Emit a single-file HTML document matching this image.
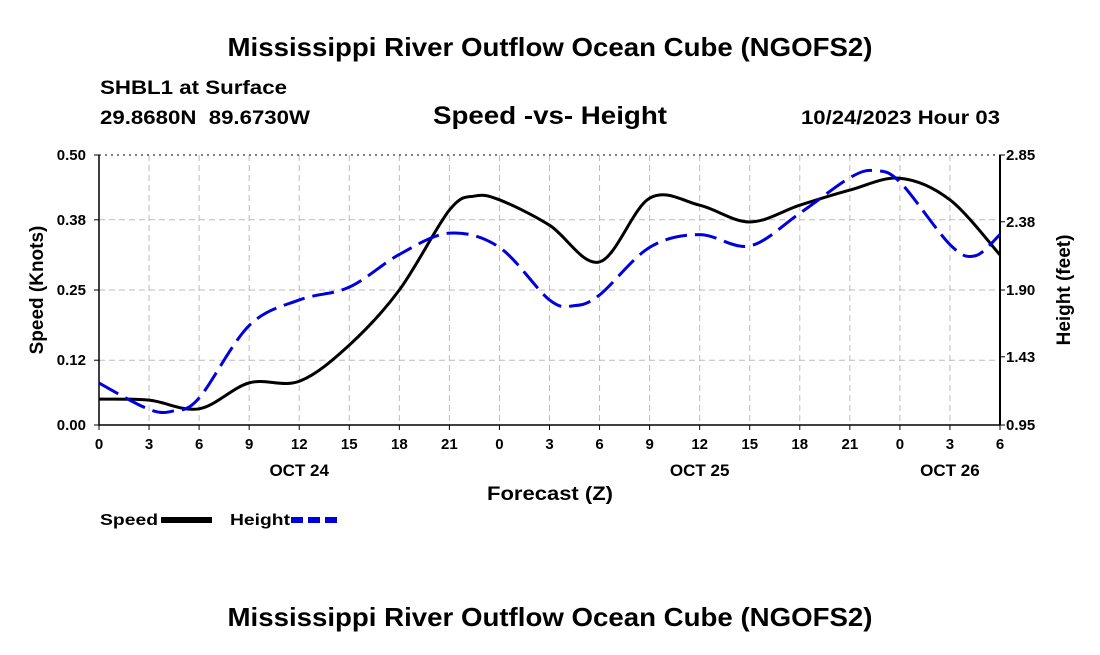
<!DOCTYPE html>
<html><head><meta charset="utf-8"><style>
body{margin:0;background:#fff;width:1100px;height:650px;overflow:hidden;font-family:"Liberation Sans",sans-serif}
svg text{font-family:"Liberation Sans",sans-serif;font-weight:bold;fill:#000;white-space:pre}
</style></head><body>
<svg id="c" width="1100" height="650">
<text x="550" y="56" font-size="26" textLength="645" lengthAdjust="spacingAndGlyphs" text-anchor="middle">Mississippi River Outflow Ocean Cube (NGOFS2)</text>
<text x="100" y="94" font-size="19" textLength="187" lengthAdjust="spacingAndGlyphs">SHBL1 at Surface</text>
<text x="100" y="124" font-size="19" textLength="210" lengthAdjust="spacingAndGlyphs" xml:space="preserve">29.8680N  89.6730W</text>
<text x="550" y="124" font-size="25" textLength="234" lengthAdjust="spacingAndGlyphs" text-anchor="middle">Speed -vs- Height</text>
<text x="801" y="124" font-size="19" textLength="199" lengthAdjust="spacingAndGlyphs">10/24/2023 Hour 03</text>
<g id="grid"></g><g id="axes"></g><g id="series"></g>
<text x="487" y="500" font-size="19" textLength="126" lengthAdjust="spacingAndGlyphs">Forecast (Z)</text>
<text transform="translate(43,290) rotate(-90)" font-size="19" text-anchor="middle">Speed (Knots)</text>
<text transform="translate(1070,290) rotate(-90)" font-size="19" text-anchor="middle">Height (feet)</text>
<g><text x="100" y="525" font-size="16" textLength="58" lengthAdjust="spacingAndGlyphs">Speed</text><line x1="161" y1="520" x2="212" y2="520" stroke="#000" stroke-width="6"/></g>
<g><text x="230" y="525" font-size="16" textLength="60" lengthAdjust="spacingAndGlyphs">Height</text><line x1="291" y1="520" x2="342" y2="520" stroke="#0000dd" stroke-width="6" stroke-dasharray="12,5"/></g>
<text x="550" y="626" font-size="26" textLength="645" lengthAdjust="spacingAndGlyphs" text-anchor="middle">Mississippi River Outflow Ocean Cube (NGOFS2)</text>
</svg>
<script>
const xTickLabels=["0","3","6","9","12","15","18","21","0","3","6","9","12","15","18","21","0","3","6"];
const dayLabels=["OCT 24","OCT 25","OCT 26"];
const dayHours=[12,36,51];
const leftTicks=["0.00","0.12","0.25","0.38","0.50"];
const rightTicks=["0.95","1.43","1.90","2.38","2.85"];
const speedHours=[0,3,6,9,12,15,18,21,22.5,24,27,30,33,36,39,42,45,48,51,54];
const speedValues=[0.048,0.046,0.030,0.078,0.081,0.148,0.25,0.398,0.424,0.417,0.37,0.302,0.42,0.407,0.376,0.407,0.435,0.457,0.417,0.315];
const heightHours=[0,3,4.5,6,9,12,15,18,21,24,27,28.5,30,33,36,39,42,45,46.5,48,51,52.5,54];
const heightValues=[1.245,1.06,1.05,1.14,1.65,1.83,1.92,2.15,2.30,2.20,1.83,1.79,1.865,2.20,2.29,2.21,2.44,2.69,2.74,2.66,2.22,2.14,2.29];
const L=99,R=1000,T=155,B=425,NS="http://www.w3.org/2000/svg";
const xs=h=>L+(R-L)*h/54, yl=v=>B-(B-T)*v/0.5, yr=v=>B-(B-T)*(v-0.95)/1.9;
function el(p,t,a){const e=document.createElementNS(NS,t);for(const k in a)e.setAttribute(k,a[k]);document.getElementById(p).appendChild(e);return e;}
xTickLabels.forEach((l,i)=>{const x=xs(i*3);
 const g=el('grid','line',{x1:x,x2:x,y1:T,y2:B,stroke:'#bbb','stroke-dasharray':'6,4'});
 
 const tk=el('axes','line',{x1:x,x2:x,y1:B,y2:B+5,stroke:'#000'});
 
 const t=el('axes','text',{x:x,y:B+24,'font-size':15,'text-anchor':'middle'});t.textContent=l;
 });
dayLabels.forEach((l,i)=>{const t=el('axes','text',{x:xs(dayHours[i]),y:B+51,'font-size':17,'text-anchor':'middle'});t.textContent=l;
 });
leftTicks.forEach((l,i)=>{const y=yl(+l);
 const g=el('grid','line',{x1:L,x2:R,y1:y,y2:y,stroke:i==4?'#000':'#bbb','stroke-dasharray':i==4?'2,4':'6,4'});
 
 const t=el('axes','text',{x:L-13,y:y+5,'font-size':15,'text-anchor':'end'});t.textContent=l;
 
 const tk=el('axes','line',{x1:L-5,x2:L,y1:y,y2:y,stroke:'#000'});});
rightTicks.forEach(l=>{const y=yr(+l);
 const t=el('axes','text',{x:R+6,y:y+5,'font-size':15});t.textContent=l;
 
 const tk=el('axes','line',{x1:R,x2:R+5,y1:y,y2:y,stroke:'#000'});});
const ax=el('axes','path',{d:`M${L},${T}V${B}H${R}`,fill:'none',stroke:'#000','stroke-width':1.5});

const ax2=el('axes','line',{x1:R,x2:R,y1:T,y2:B,stroke:'#000','stroke-width':2});

function smooth(p){let d=`M${p[0][0]},${p[0][1]}`;for(let i=0;i<p.length-1;i++){const a=p[i-1]||p[i],b=p[i],c=p[i+1],e=p[i+2]||c;
 d+=`C${b[0]+(c[0]-a[0])/6},${b[1]+(c[1]-a[1])/6} ${c[0]-(e[0]-b[0])/6},${c[1]-(e[1]-b[1])/6} ${c[0]},${c[1]}`;}return d;}
const sp=el('series','path',{d:smooth(speedHours.map((h,i)=>[xs(h),yl(speedValues[i])])),fill:'none',stroke:'#000','stroke-width':3});

const hp=el('series','path',{d:smooth(heightHours.map((h,i)=>[xs(h),yr(heightValues[i])])),fill:'none',stroke:'#0000dd','stroke-width':3,'stroke-dasharray':'22,8'});

</script>
</body></html>
